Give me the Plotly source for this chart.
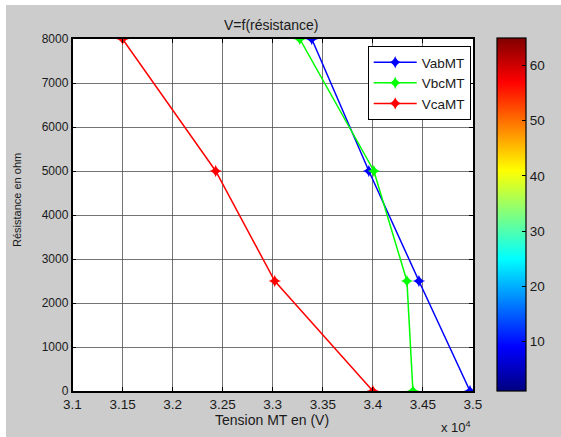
import plotly.graph_objects as go

# Data
resistance = [0, 2500, 5000, 8000]
vab_mt = [34970, 34460, 33960, 33390]
vbc_mt = [34400, 34340, 34010, 33270]
vca_mt = [34000, 33020, 32430, 31500]

x_tickvals = [31000, 31500, 32000, 32500, 33000, 33500, 34000, 34500, 35000]
x_ticktext = ["3.1", "3.15", "3.2", "3.25", "3.3", "3.35", "3.4", "3.45", "3.5"]
y_tickvals = [0, 1000, 2000, 3000, 4000, 5000, 6000, 7000, 8000]
cbar_tickvals = [10, 20, 30, 40, 50, 60]

W, H = 561, 437
FONT = "Liberation Sans, Arial, sans-serif"
TXT = "#1a1a1a"

jet = [[0.0, "rgb(0,0,128)"], [0.125, "rgb(0,0,255)"], [0.375, "rgb(0,255,255)"],
       [0.625, "rgb(255,255,0)"], [0.875, "rgb(255,0,0)"], [1.0, "rgb(128,0,0)"]]

fig = go.Figure()
for name, vals, col in [("VabMT", vab_mt, "#0000ff"), ("VbcMT", vbc_mt, "#00ff00"),
                        ("VcaMT", vca_mt, "#ff0000")]:
    fig.add_trace(go.Scatter(
        x=vals, y=resistance, mode="lines+markers", name=name,
        line=dict(color=col, width=1.5),
        marker=dict(symbol="star-diamond", size=9, color=col),
    ))

# colorbar carrier
fig.add_trace(go.Scatter(
    x=[33000], y=[4000], mode="markers", showlegend=False, hoverinfo="skip",
    marker=dict(size=1, opacity=0, color=[1], colorscale=jet, cmin=1, cmax=65,
                showscale=True,
                colorbar=dict(x=497 / W, xanchor="left", y=46 / H, yanchor="bottom",
                              len=(391.7 - 38.3) / H, lenmode="fraction",
                              thickness=29, thicknessmode="pixels", xpad=0, ypad=0,
                              outlinecolor="black", outlinewidth=1.2,
                              tickvals=cbar_tickvals, ticks="inside", ticklen=4,
                              tickcolor="black",
                              tickfont=dict(family=FONT, size=13.5, color=TXT))),
))

x0, x1 = 72.5 / W, 473 / W
y0, y1 = (H - 391) / H, (H - 39) / H

axis_common = dict(showline=True, linecolor="black", linewidth=1.5, mirror="ticks",
                   ticks="inside", ticklen=4, tickcolor="black", showgrid=True,
                   gridcolor="rgba(70,70,70,0.75)", gridwidth=1, zeroline=False,
                   automargin=False)

fig.update_layout(
    width=W, height=H,
    margin=dict(l=0, r=0, t=0, b=0, autoexpand=False),
    paper_bgcolor="#cccccc", plot_bgcolor="white",
    font=dict(family=FONT, color=TXT),
    xaxis=dict(domain=[x0, x1], range=[31000, 35000], tickvals=x_tickvals,
               ticktext=x_ticktext, tickfont=dict(size=13.5, color=TXT), **axis_common),
    yaxis=dict(domain=[y0, y1], range=[0, 8000], tickvals=y_tickvals,
               tickfont=dict(size=12, color=TXT), **axis_common),
    legend=dict(x=470.7 / W, xanchor="right", y=(H - 46) / H, yanchor="top",
                bgcolor="white", bordercolor="black", borderwidth=1, itemwidth=43,
                font=dict(family=FONT, size=13.5, color=TXT), tracegroupgap=0),
    showlegend=True,
    annotations=[
        dict(text="V=f(résistance)", x=271 / W, y=(H - 25) / H, xref="paper", yref="paper",
             showarrow=False, xanchor="center", yanchor="middle",
             font=dict(size=14, color=TXT)),
        dict(text="Tension MT en (V)", x=272 / W, y=(H - 420) / H, xref="paper", yref="paper",
             showarrow=False, xanchor="center", yanchor="middle",
             font=dict(size=14, color=TXT)),
        dict(text="Résistance en ohm", x=17 / W, y=(H - 200) / H, xref="paper", yref="paper",
             showarrow=False, xanchor="center", yanchor="middle", textangle=-90,
             font=dict(size=11, color=TXT)),
        dict(text="x 10<sup>4</sup>", x=456 / W, y=(H - 427) / H, xref="paper", yref="paper",
             showarrow=False, xanchor="center", yanchor="middle",
             font=dict(size=13, color=TXT)),
    ],
    shapes=[
        dict(type="rect", xref="paper", yref="paper", x0=0, x1=1, y0=(H - 5) / H, y1=1,
             fillcolor="white", line=dict(width=0), layer="above"),
        dict(type="rect", xref="paper", yref="paper", x0=0, x1=6 / W, y0=0, y1=1,
             fillcolor="white", line=dict(width=0), layer="above"),
    ],
)

fig.write_html("out.html", config={"displayModeBar": False},
               post_script="document.body.style.margin='0';document.body.style.overflow='hidden';")
